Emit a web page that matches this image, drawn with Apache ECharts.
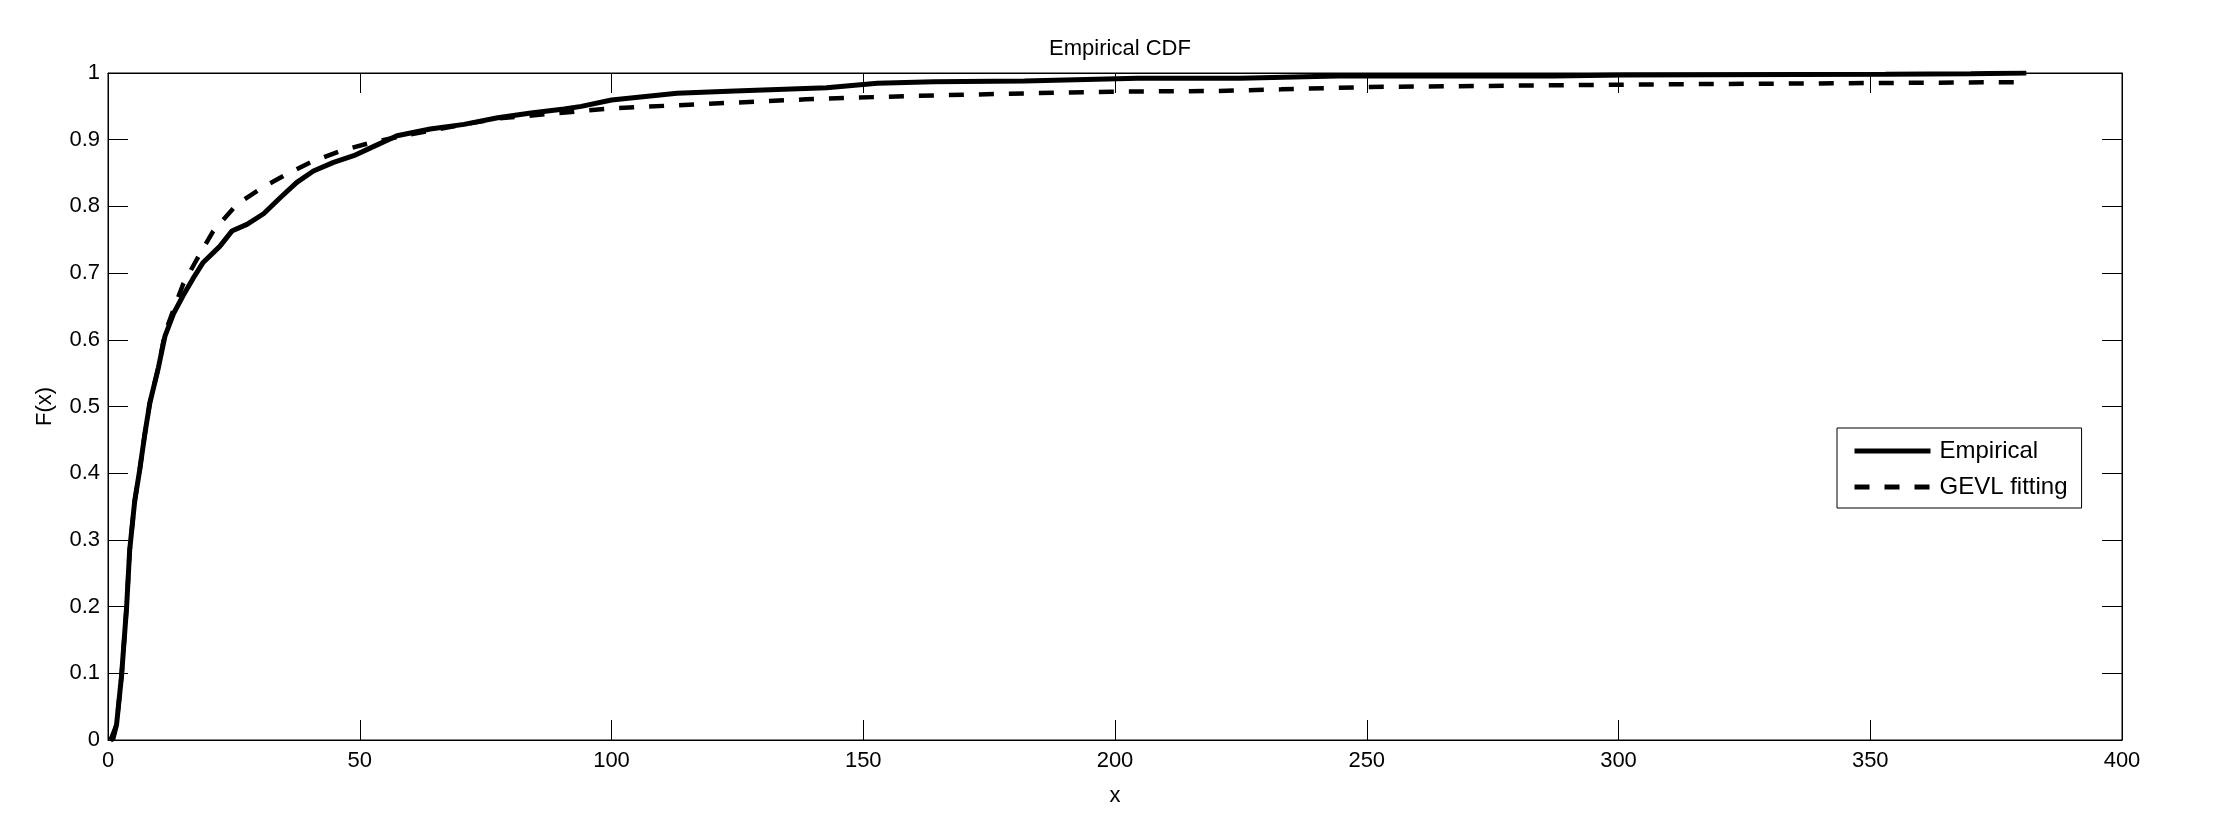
<!DOCTYPE html>
<html>
<head>
<meta charset="utf-8">
<script src="https://cdn.jsdelivr.net/npm/echarts@6/dist/echarts.min.js"></script>
<style>html,body{margin:0;padding:0;background:#fff;}#c{width:2215px;height:840px;}</style>
</head>
<body>
<div id="c"></div>
<script>
const titleText = 'Empirical CDF';
const xName = 'x';
const yName = 'F(x)';
const seriesNames = ['Empirical', 'GEVL fitting'];

const empX = [0.5, 1, 1.7, 2.7, 3.7, 4.3, 5.3, 6.3, 7.3, 8.3, 10, 11.3, 13, 14.9, 16.9, 18.9, 22.2, 24.6, 27.6, 30.9, 34.2, 37.5, 40.8, 44.8, 48.8, 52.8, 57.4, 64, 70.7, 77.4, 84, 90.6, 94, 100, 113, 124.5, 142.7, 152.8, 164, 182, 204.5, 224.8, 242, 244.5, 287, 301, 353, 370, 381];
const empF = [0, 0.002, 0.023, 0.097, 0.2, 0.284, 0.358, 0.405, 0.458, 0.505, 0.558, 0.605, 0.639, 0.666, 0.692, 0.716, 0.74, 0.763, 0.773, 0.789, 0.813, 0.836, 0.853, 0.866, 0.876, 0.89, 0.906, 0.916, 0.923, 0.933, 0.94, 0.946, 0.95, 0.9595, 0.9695, 0.973, 0.978, 0.9845, 0.987, 0.988, 0.992, 0.992, 0.995, 0.9955, 0.9955, 0.997, 0.998, 0.999, 1.0];

const gevX = [0.5, 1.7, 2.7, 3.7, 4.3, 5.3, 6.3, 7.3, 8.3, 10, 11.3, 13, 14.9, 17.6, 20.9, 25.6, 30.2, 34.9, 40.2, 46.1, 52.5, 60, 70, 77.8, 100, 118.3, 138.6, 158.9, 179.1, 199.4, 219.6, 233, 250.5, 304.7, 377.6, 381];
const gevF = [0, 0.023, 0.097, 0.2, 0.284, 0.358, 0.405, 0.458, 0.505, 0.558, 0.61, 0.645, 0.683, 0.72, 0.763, 0.803, 0.826, 0.846, 0.866, 0.883, 0.896, 0.908, 0.922, 0.932, 0.947, 0.9535, 0.9605, 0.9655, 0.969, 0.972, 0.973, 0.9755, 0.979, 0.9828, 0.9862, 0.9863];

const xTicks = {min: 0, max: 400, interval: 50};
const yTicks = {min: 0, max: 1, interval: 0.1};

const FONT = '"Liberation Sans", Arial, Helvetica, sans-serif';
const empData = empX.map((x, i) => [x, empF[i]]);
const gevData = gevX.map((x, i) => [x, gevF[i]]);

const chart = echarts.init(document.getElementById('c'), null, {renderer: 'canvas'});
function axisBase() {
  return {
    show: true,
    axisLine: {show: true, onZero: false, lineStyle: {color: '#000', width: 1}},
    axisTick: {show: true, inside: true, length: 20, lineStyle: {color: '#000', width: 1}},
    splitLine: {show: false}
  };
}
chart.setOption({
  animation: false,
  backgroundColor: '#fff',
  title: {
    text: titleText, left: 1115, top: 33, textAlign: 'center',
    textStyle: {fontFamily: FONT, fontSize: 22, fontWeight: 'normal', color: '#000'}
  },
  grid: {left: 108, top: 73, width: 2014, height: 667, show: true, borderColor: '#000', borderWidth: 1, backgroundColor: 'transparent'},
  legend: {
    orient: 'vertical', left: 1837, top: 428,
    data: seriesNames,
    itemWidth: 76, itemHeight: 24, itemGap: 12,
    padding: [11, 14, 9, 15],
    borderColor: '#000', borderWidth: 1, backgroundColor: '#fff',
    itemStyle: {color: 'rgba(0,0,0,0)', borderWidth: 0, opacity: 0},
    lineStyle: {width: 5},
    textStyle: {fontFamily: FONT, fontSize: 24, color: '#000', padding: [0, 0, 0, 4]},
    selectedMode: false
  },
  xAxis: [
    Object.assign(axisBase(), {
      type: 'value', position: 'bottom', min: xTicks.min, max: xTicks.max, interval: xTicks.interval,
      name: xName, nameLocation: 'middle', nameGap: 45,
      nameTextStyle: {fontFamily: FONT, fontSize: 22, color: '#000'},
      axisLabel: {fontFamily: FONT, fontSize: 22, color: '#000', margin: 10}
    }),
    Object.assign(axisBase(), {
      type: 'value', position: 'top', min: xTicks.min, max: xTicks.max, interval: xTicks.interval,
      axisLabel: {show: false}
    })
  ],
  yAxis: [
    Object.assign(axisBase(), {
      type: 'value', position: 'left', min: yTicks.min, max: yTicks.max, interval: yTicks.interval,
      name: yName, nameLocation: 'middle', nameGap: 52, nameRotate: 90,
      nameTextStyle: {fontFamily: FONT, fontSize: 22, color: '#000'},
      axisLabel: {fontFamily: FONT, fontSize: 22, color: '#000', margin: 8}
    }),
    Object.assign(axisBase(), {
      type: 'value', position: 'right', min: yTicks.min, max: yTicks.max, interval: yTicks.interval,
      axisLabel: {show: false}
    })
  ],
  series: [
    {
      name: seriesNames[0], type: 'line', data: empData, showSymbol: false, symbol: 'none',
      xAxisIndex: 0, yAxisIndex: 0,
      lineStyle: {color: '#000', width: 5, type: 'solid'}, itemStyle: {color: '#000'}, z: 3
    },
    {
      name: seriesNames[1], type: 'line', data: gevData, showSymbol: false, symbol: 'none',
      xAxisIndex: 0, yAxisIndex: 0,
      lineStyle: {color: '#000', width: 4.5, type: [15, 15]}, itemStyle: {color: '#000'}, z: 2
    },
    {
      name: 'mirror', type: 'line', data: [], xAxisIndex: 1, yAxisIndex: 1,
      showSymbol: false, symbol: 'none', silent: true
    }
  ]
});
</script>
</body>
</html>
